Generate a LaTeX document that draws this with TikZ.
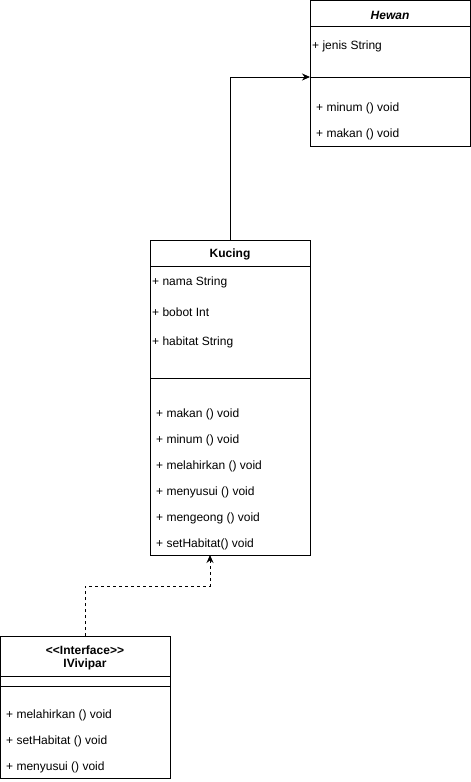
\documentclass[tikz,border=0pt]{standalone}
\usepackage{fontspec}
\setmainfont{Liberation Sans}
\usetikzlibrary{arrows.meta}
\begin{document}
\begin{tikzpicture}[x=1pt,y=-1pt,
  box/.style={draw, line width=0.9pt, rectangle, inner sep=0, anchor=north west},
  sepline/.style={line width=0.9pt},
  txt/.style={anchor=west, inner sep=0, yshift=-1.5pt, font=\fontsize{12}{14}\selectfont},
  ttl/.style={inner sep=0, yshift=-1pt, font=\fontsize{12}{14}\selectfont\bfseries},
  conn/.style={line width=0.9pt, -{Stealth[length=8pt,width=7pt]}}
]
\useasboundingbox (0,0) rectangle (471,782);
% Hewan
\node[box, minimum width=160, minimum height=146] (hewan) at (310,0) {};
\draw[sepline] (310,26) -- (470,26);
\draw[sepline] (310,77) -- (470,77);
\node[ttl, font=\fontsize{12}{14}\selectfont\bfseries\itshape] (hewant) at (390,14) {Hewan};
\node[txt] (h1) at (312,45) {+ jenis String};
\node[txt] (h2) at (316,107) {+ minum () void};
\node[txt] (h3) at (316,133) {+ makan () void};
% Kucing
\node[box, minimum width=160, minimum height=315] (kucing) at (150,240) {};
\draw[sepline] (150,266) -- (310,266);
\draw[sepline] (150,378) -- (310,378);
\node[ttl] (kucingt) at (230,253) {Kucing};
\node[txt] (k1) at (152,281) {+ nama String};
\node[txt] (k2) at (152,311) {+ bobot Int};
\node[txt] (k3) at (152,341) {+ habitat String};
\node[txt] (k4) at (156,413) {+ makan () void};
\node[txt] (k5) at (156,439) {+ minum () void};
\node[txt] (k6) at (156,465) {+ melahirkan () void};
\node[txt] (k7) at (156,491) {+ menyusui () void};
\node[txt] (k8) at (156,517) {+ mengeong () void};
\node[txt] (k9) at (156,543) {+ setHabitat() void};
% IVivipar
\node[box, minimum width=170, minimum height=142] (ivi) at (0,636) {};
\draw[sepline] (0,676) -- (170,676);
\draw[sepline] (0,686) -- (170,686);
\node[ttl] (ivit1) at (85,649) {{<}{<}Interface{>}{>}};
\node[ttl] (ivit2) at (85,663) {IVivipar};
\node[txt] (i1) at (6,714) {+ melahirkan () void};
\node[txt] (i2) at (6,740) {+ setHabitat () void};
\node[txt] (i3) at (6,766) {+ menyusui () void};
% connectors
\coordinate (hsep) at (310,77);
\coordinate (kbot) at (210,555);
\coordinate (mid) at (210,586);
\draw[conn] (kucing.north) |- (hsep);
\draw[conn, dash pattern=on 3pt off 3pt] (ivi.north) |- (mid) -- (kbot);
\end{tikzpicture}
\end{document}
